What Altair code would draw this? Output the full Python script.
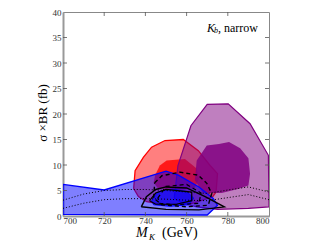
import altair as alt
import pandas as pd

# ---- data (M_K in GeV, sigma x BR in fb) ----
red_outer_x = [734.3, 735.0, 739.0, 743.0, 749.5, 758.4, 765.7, 771.4, 775.0, 774.3, 772.7, 763.0, 750.0, 740.6, 736.6]
red_outer_y = [5.4, 8.9, 11.5, 13.5, 14.8, 15.0, 12.8, 9.9, 8.3, 4.7, 3.8, 2.5, 2.2, 2.8, 3.8]
red_inner_x = [744.7, 747.0, 750.3, 759.2, 764.9, 766.0, 764.0, 755.0, 746.0, 744.0]
red_inner_y = [8.0, 9.9, 10.9, 11.2, 9.3, 7.3, 5.5, 5.0, 5.5, 6.5]

purple_outer_x = [754.0, 755.8, 762.1, 770.0, 780.2, 790.8, 799.7, 800.0, 790.0, 775.0, 765.0, 758.0]
purple_outer_y = [3.5, 9.9, 17.7, 21.9, 22.0, 18.1, 11.9, 1.8, 1.5, 1.3, 1.8, 2.5]
purple_inner_x = [764.0, 764.9, 769.8, 775.7, 780.6, 786.0, 790.0, 790.8, 790.0, 785.0, 777.0, 768.0]
purple_inner_y = [7.0, 10.9, 13.8, 14.1, 14.5, 13.3, 11.3, 8.3, 6.0, 5.3, 4.5, 4.5]

blue_outer_x = [700.0, 720.0, 750.0, 756.0, 766.0, 772.8, 775.0, 770.0, 700.0]
blue_outer_y = [6.2, 5.1, 8.8, 8.0, 5.7, 3.5, 2.1, 0.2, 0.3]
blue_inner_x = [743.0, 746.0, 753.0, 760.0, 763.5, 761.0, 752.0, 744.0]
blue_inner_y = [3.0, 4.7, 5.3, 4.8, 3.5, 2.2, 1.9, 2.2]

dash_outer_x = [744.5, 748.0, 756.8, 765.7, 769.8, 772.2, 770.5, 760.0, 748.0, 744.0]
dash_outer_y = [6.5, 7.9, 8.6, 8.0, 6.4, 4.4, 2.1, 1.8, 2.2, 3.5]
dash_inner_x = [746.0, 750.0, 760.0, 767.0, 766.0, 755.0, 747.0]
dash_inner_y = [3.5, 5.8, 6.2, 4.5, 2.5, 2.2, 2.5]

solid_outer_x = [738.0, 740.5, 745.0, 750.0, 760.0, 769.0, 778.3, 766.0, 750.0]
solid_outer_y = [1.8, 3.8, 5.2, 5.7, 5.5, 3.8, 1.8, 1.2, 1.3]
solid_inner_x = [742.0, 745.0, 750.0, 762.5, 762.5, 755.0, 745.0]
solid_inner_y = [3.0, 4.5, 5.2, 4.7, 3.0, 2.3, 2.3]

dot_x = [700, 710, 720, 730, 740, 750, 760, 770, 780, 790, 800]
dot_upper_y = [3.1, 4.3, 5.0, 5.2, 5.2, 5.0, 4.7, 4.4, 5.1, 5.7, 4.7]
dot_lower_y = [1.5, 2.5, 3.2, 3.4, 3.4, 3.3, 3.1, 3.0, 3.6, 4.2, 3.2]

x_ticks = [700, 720, 740, 760, 780, 800]
y_ticks = [0, 5, 10, 15, 20, 25, 30, 35, 40]

W, H = 206, 204
SERIF = "Liberation Serif"

xscale = alt.Scale(domain=[700, 800], nice=False, zero=False)
yscale = alt.Scale(domain=[0, 40], nice=False, zero=False)
xaxis = alt.Axis(values=x_ticks, format="d", title=None, grid=False, ticks=False,
                 labelFont=SERIF, labelFontSize=9, labelColor="#333",
                 domainColor="#999", domainWidth=2, labelPadding=0)
yaxis = alt.Axis(values=y_ticks, format="d", title=None, grid=False, ticks=False,
                 labelFont=SERIF, labelFontSize=9, labelColor="#333",
                 domainColor="#999", domainWidth=2, labelPadding=2)
X = alt.X("x:Q", scale=xscale, axis=xaxis)
Y = alt.Y("y:Q", scale=yscale, axis=yaxis)


def poly(xs, ys, stroke="transparent", sw=0.0, fill=None, fop=0.5, dash=None, closed=True):
    xs = list(xs)
    ys = list(ys)
    if closed:
        xs = xs + [xs[0]]
        ys = ys + [ys[0]]
    df = pd.DataFrame({"x": xs, "y": ys, "i": list(range(len(xs)))})
    kw = dict(stroke=stroke, strokeWidth=sw, clip=True, interpolate="linear")
    if fill is not None:
        kw["fill"] = fill
        kw["fillOpacity"] = fop
    if dash is not None:
        kw["strokeDash"] = dash
    return alt.Chart(df).mark_line(**kw).encode(x=X, y=Y, order="i:Q")


layers = [
    poly(red_outer_x, red_outer_y, stroke="#ff0000", sw=1.3, fill="#ff0000", fop=0.5),
    poly(red_inner_x, red_inner_y, fill="#ff0000", fop=0.8),
    poly(purple_outer_x, purple_outer_y, stroke="#800080", sw=1.2, fill="#800080", fop=0.5),
    poly(purple_inner_x, purple_inner_y, fill="#800080", fop=0.85),
    poly(blue_outer_x, blue_outer_y, stroke="#0000ff", sw=1.3, fill="#0000ff", fop=0.5),
    poly(blue_inner_x, blue_inner_y, stroke="#0000ff", sw=1.0, fill="#0000ff", fop=0.7),
    poly(dash_outer_x, dash_outer_y, stroke="black", sw=1.4, dash=[4, 3]),
    poly(dash_inner_x, dash_inner_y, stroke="black", sw=1.2, dash=[4, 3]),
    poly(solid_outer_x, solid_outer_y, stroke="black", sw=1.4),
    poly(solid_inner_x, solid_inner_y, stroke="black", sw=1.2),
    poly(dot_x, dot_upper_y, stroke="black", sw=1.0, dash=[1, 2], closed=False),
    poly(dot_x, dot_lower_y, stroke="black", sw=1.0, dash=[1, 2], closed=False),
]

# inward ticks on all four sides
xt = pd.DataFrame({"x": x_ticks[1:-1]})
yt = pd.DataFrame({"y": y_ticks[1:-1]})
tick_style = dict(color="#555", strokeWidth=0.8)
layers += [
    alt.Chart(xt).mark_rule(**tick_style).encode(x=X, y=alt.value(H), y2=alt.value(H - 4)),
    alt.Chart(xt).mark_rule(**tick_style).encode(x=X, y=alt.value(0), y2=alt.value(4)),
    alt.Chart(yt).mark_rule(**tick_style).encode(y=Y, x=alt.value(0), x2=alt.value(4)),
    alt.Chart(yt).mark_rule(**tick_style).encode(y=Y, x=alt.value(W), x2=alt.value(W - 4)),
]


def label(t, x, y, size, italic=False, align="left", angle=0):
    kw = dict(font=SERIF, fontSize=size, align=align, baseline="middle", color="black")
    if italic:
        kw["fontStyle"] = "italic"
    if angle:
        kw["angle"] = angle
    return alt.Chart(pd.DataFrame({"t": [t]})).mark_text(**kw).encode(
        x=alt.value(x), y=alt.value(y), text="t:N")


layers += [
    # annotation  K_b, narrow
    label("K", 144, 16, 12, italic=True),
    label("b", 151, 19, 8, italic=True),
    label(", narrow", 155, 16, 12),
    # x title  M_K (GeV)
    label("M", 73, 221, 14, italic=True),
    label("K", 86, 225, 9, italic=True),
    label("(GeV)", 99, 221, 14),
    # y title  sigma x BR (fb)
    label("\u03c3 \u00d7BR (fb)", -20, 101, 13, align="center", angle=270),
]

chart = alt.layer(*layers).properties(
    width=W, height=H,
    autosize=alt.AutoSizeParams(type="none"),
    padding={"left": 55, "top": 4, "right": 55, "bottom": 25},
).configure_view(stroke="#888", strokeWidth=1)

chart.save("out.html", embed_options={"renderer": "svg", "actions": False})
